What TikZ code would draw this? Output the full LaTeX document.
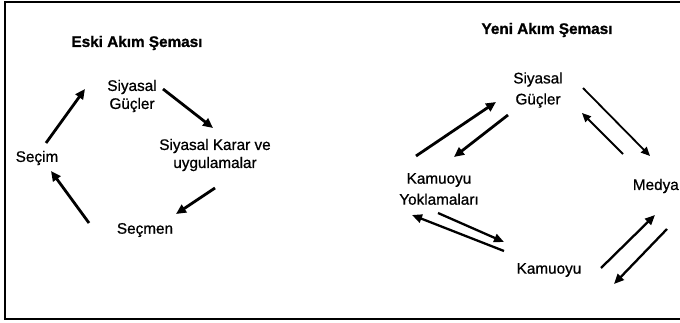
\documentclass[tikz,border=0pt]{standalone}
\usepackage{fontspec}
\setmainfont{Liberation Sans}
\newfontfamily\heavyfont[FakeBold=0.8]{Liberation Sans}
\newfontfamily\titlefont[FakeBold=1.2]{Liberation Sans Bold}
\usetikzlibrary{arrows.meta}
\begin{document}
\begin{tikzpicture}[x=1pt,y=-1pt,
  lbl/.style={inner sep=0pt,align=center,font=\heavyfont\fontsize{15.3}{18}\selectfont},
  lblw/.style={inner sep=0pt,align=center,font=\heavyfont\fontsize{15.3}{21}\selectfont},
  ttl/.style={inner sep=0pt,font=\titlefont\fontsize{15.3}{18}\selectfont},
  thick arr/.style={line width=2.8pt,-{Triangle[length=10pt,width=9pt]}},
  mid arr/.style={line width=2.3pt,-{Triangle[length=10pt,width=8.5pt]}},
  thin arr/.style={line width=1.8pt,-{Triangle[length=9pt,width=8pt]}},
  frame/.style={line width=2pt}]
\useasboundingbox (0,0) rectangle (680,323);
% frame
\coordinate (ftr) at (681,2);
\coordinate (ftl) at (4.5,2);
\coordinate (fbl) at (4.5,319);
\coordinate (fbr) at (681,319);
\draw[frame] (ftr) -- (ftl) -- (fbl) -- (fbr);

% ---- left diagram ----
\node[ttl] (t1) at (137,43) {Eski Akım Şeması};
\node[lbl] (sg1) at (132,96) {Siyasal\\Güçler};
\node[lbl] (kr) at (215,155) {Siyasal Karar ve\\uygulamalar};
\node[lbl] (sm) at (145,230) {Seçmen};
\node[lbl] (sc) at (37,158) {Seçim};

\coordinate (a1s) at (46,143);  \coordinate (a1e) at (85,89);
\coordinate (a2s) at (163,89);  \coordinate (a2e) at (213,128);
\coordinate (a3s) at (215,188); \coordinate (a3e) at (176,214);
\coordinate (a4s) at (89,223);  \coordinate (a4e) at (51,171);
\draw[thick arr] (a1s) -- (a1e);
\draw[thick arr] (a2s) -- (a2e);
\draw[thick arr] (a3s) -- (a3e);
\draw[thick arr] (a4s) -- (a4e);

% ---- right diagram ----
\node[ttl] (t2) at (547,30) {Yeni Akım Şeması};
\node[lblw] (sg2) at (538,90) {Siyasal\\Güçler};
\node[lblw] (ky) at (439,189) {Kamuoyu\\Yoklamaları};
\node[lbl,anchor=east] (md) at (679,186) {Medya};
\node[lbl] (km) at (549,270) {Kamuoyu};

\coordinate (b1s) at (416,156); \coordinate (b1e) at (496,102);
\coordinate (b2s) at (508,115); \coordinate (b2e) at (454,157);
\coordinate (b3s) at (583,88);  \coordinate (b3e) at (650,156);
\coordinate (b4s) at (623,154); \coordinate (b4e) at (582,113);
\coordinate (b5s) at (438,213); \coordinate (b5e) at (504,242);
\coordinate (b6s) at (504,251); \coordinate (b6e) at (412,215);
\coordinate (b7s) at (601,268); \coordinate (b7e) at (655,215);
\coordinate (b8s) at (667,229); \coordinate (b8e) at (614,284);
\draw[thick arr] (b1s) -- (b1e);
\draw[thick arr] (b2s) -- (b2e);
\draw[thin arr] (b3s) -- (b3e);
\draw[thin arr] (b4s) -- (b4e);
\draw[mid arr] (b5s) -- (b5e);
\draw[mid arr] (b6s) -- (b6e);
\draw[mid arr] (b7s) -- (b7e);
\draw[mid arr] (b8s) -- (b8e);
\end{tikzpicture}
\end{document}
